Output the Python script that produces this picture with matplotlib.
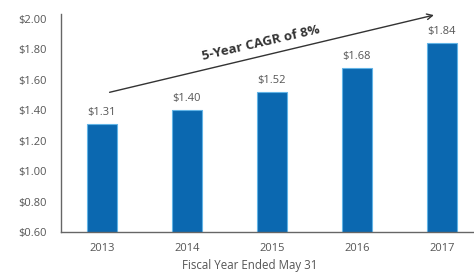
import matplotlib
matplotlib.use('Agg')
import matplotlib.pyplot as plt

plt.rcParams['font.family'] = ['Open Sans', 'DejaVu Sans']

# data
years = ['2013', '2014', '2015', '2016', '2017']
values = [1.31, 1.40, 1.52, 1.68, 1.84]
yticks = [0.60, 0.80, 1.00, 1.20, 1.40, 1.60, 1.80, 2.00]

fig = plt.figure(figsize=(4.74, 2.75), dpi=100)
ax = fig.add_axes([0.1287, 0.1564, 0.8713, 0.7927])

x = range(len(years))
ax.bar(x, values, width=0.35, color='#0b68b0', edgecolor='#62b4e6', linewidth=0.8)

for xi, v in zip(x, values):
    ax.text(xi, v + 0.04, '$%.2f' % v, ha='center', va='bottom', fontsize=8, color='#555555')

# CAGR arrow
ax.annotate('', xy=(3.94, 2.03), xytext=(0.06, 1.514),
            arrowprops=dict(arrowstyle='->', color='#333333', lw=1.0),
            annotation_clip=False)
ax.text(1.87, 1.84, '5-Year CAGR of 8%', rotation=13, ha='center', va='center',
        fontsize=9.5, fontweight='bold', color='#333333')

ax.set_xlim(-0.48, 4.38)
ax.set_ylim(0.6, 2.033)
ax.set_yticks(yticks)
ax.set_yticklabels(['$%.2f' % t for t in yticks])
ax.set_xticks(list(x))
ax.set_xticklabels(years)
ax.tick_params(length=0, labelsize=8, colors='#555555', pad=8)
ax.tick_params(axis='y', pad=10)

for s in ['top', 'right']:
    ax.spines[s].set_visible(False)
for s in ['left', 'bottom']:
    ax.spines[s].set_color('#666666')
    ax.spines[s].set_linewidth(1.0)

ax.set_xlabel('Fiscal Year Ended May 31', fontsize=8.3, color='#555555', labelpad=6)
ax.xaxis.set_label_coords(0.458, -0.125)

fig.savefig('out.png', dpi=100)
